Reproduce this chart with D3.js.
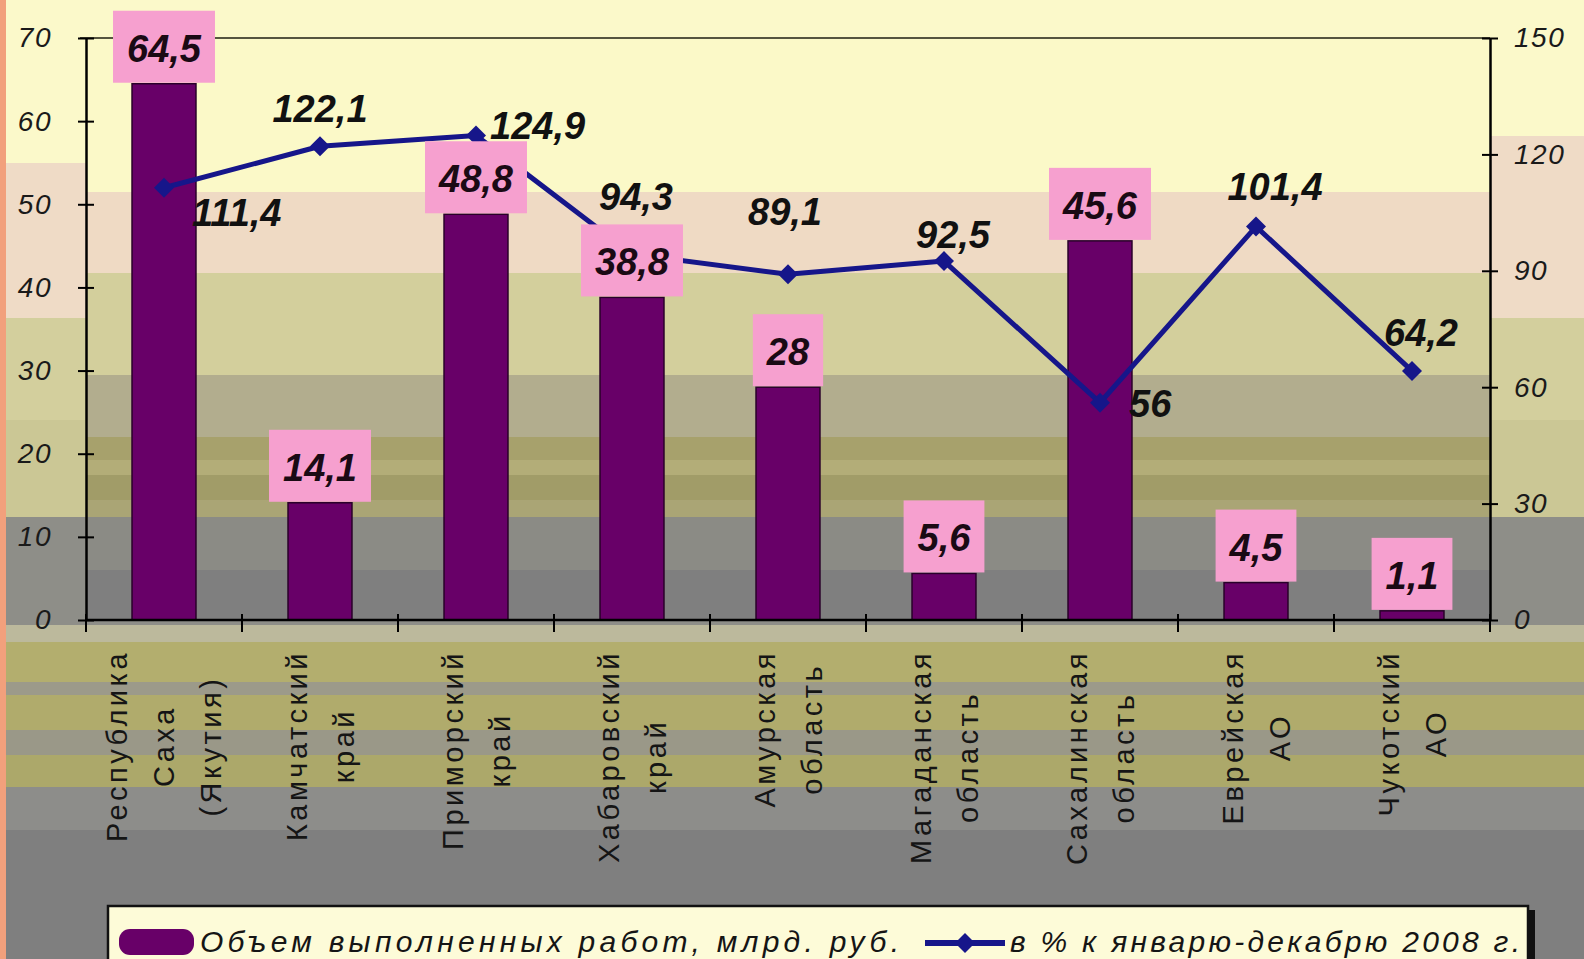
<!DOCTYPE html>
<html>
<head>
<meta charset="utf-8">
<script src="https://cdn.jsdelivr.net/npm/d3@7"></script>
<style>
body { margin: 0; overflow: hidden; background: #8a8a86; }
</style>
</head>
<body>
<div id="chart"></div>
<script>
// data
let categories = [
    ["Республика", "Саха", "(Якутия)"],
    ["Камчатский", "край"],
    ["Приморский", "край"],
    ["Хабаровский", "край"],
    ["Амурская", "область"],
    ["Магаданская", "область"],
    ["Сахалинская", "область"],
    ["Еврейская", "АО"],
    ["Чукотский", "АО"]
];
let volume = [64.5, 14.1, 48.8, 38.8, 28, 5.6, 45.6, 4.5, 1.1];
let percent = [111.4, 122.1, 124.9, 94.3, 89.1, 92.5, 56, 101.4, 64.2];
let leftTicks = [0, 10, 20, 30, 40, 50, 60, 70];
let rightTicks = [0, 30, 60, 90, 120, 150];
let seriesNames = ["Объем выполненных работ, млрд. руб.", "в % к январю-декабрю 2008 г."];

// layout / style
let width = 1584;
let height = 959;
let margin = ({top: 38, bottom: 339, left: 86, right: 94});
let font = "'Liberation Sans', Arial, sans-serif";
let barColor = "#680068";
let lineColor = "#16168a";
let boxColor = "#f6a0cf";

// background stripes [y0, y1, colour]
let outerBands = [
    [0, 163, "#fbf9ca"], [163, 318, "#efdbc6"], [318, 420, "#d3cf9d"], [420, 517, "#cbc795"],
    [517, 625, "#8e8e88"], [625, 642, "#bcb99c"], [642, 682, "#b3ae6e"], [682, 695, "#9c9a8a"],
    [695, 730, "#b0ab6c"], [730, 755, "#9a9888"], [755, 787, "#aca86a"], [787, 830, "#8d8d8a"],
    [830, 959, "#7f7f7f"]
];
let plotBands = [
    [38, 192, "#fbf9c8"], [192, 273, "#efdac4"], [273, 375, "#d3cf9c"], [375, 437, "#b2ad8e"],
    [437, 460, "#a7a16c"], [460, 475, "#b3ad78"], [475, 500, "#a19c68"], [500, 517, "#aaa575"],
    [517, 570, "#8b8b85"], [570, 620, "#7f7f7f"]
];
// line label placement [anchor, dx, dy]
let labelPos = [
    ["start", 28, 25], ["middle", 0, -37], ["start", 14, -9], ["middle", 4, -57], ["middle", -3, -62],
    ["middle", 9, -26], ["start", 29, 1], ["middle", 19, -40], ["middle", 9, -38]
];

let fmt = d => String(d).replace(".", ",");

let svg = d3.select("#chart")
    .append("svg")
    .attr("width", width)
    .attr("height", height)
    .attr("viewBox", [0, 0, width, height]);

let x = d3.scaleBand()
    .domain(d3.range(categories.length))
    .range([margin.left, width - margin.right]);
let yL = d3.scaleLinear().domain([0, 70]).range([height - margin.bottom, margin.top]);
let yR = d3.scaleLinear().domain([0, 150]).range([height - margin.bottom, margin.top]);
let cx = i => x(i) + x.bandwidth() / 2;
let barW = x.bandwidth() * 0.41;

// background
svg.append("g").selectAll("rect").data(outerBands).join("rect")
    .attr("x", 0).attr("width", width)
    .attr("y", d => d[0]).attr("height", d => d[1] - d[0])
    .attr("fill", d => d[2]);
svg.append("rect")
    .attr("x", width - margin.right).attr("width", margin.right)
    .attr("y", 136).attr("height", 27).attr("fill", "#efdbc6");
svg.append("g").selectAll("rect").data(plotBands).join("rect")
    .attr("x", margin.left).attr("width", width - margin.left - margin.right)
    .attr("y", d => d[0]).attr("height", d => d[1] - d[0])
    .attr("fill", d => d[2]);
svg.append("rect").attr("x", 0).attr("y", 0).attr("width", 6).attr("height", height).attr("fill", "#f2a07c");

// top border of plot
svg.append("line")
    .attr("x1", margin.left - 6).attr("x2", width - margin.right)
    .attr("y1", margin.top).attr("y2", margin.top)
    .attr("stroke", "#55553f").attr("stroke-width", 2);

// bars
svg.append("g")
    .selectAll("rect")
    .data(volume)
    .join("rect")
    .attr("x", (d, i) => cx(i) - barW / 2)
    .attr("width", barW)
    .attr("y", d => yL(d))
    .attr("height", d => yL(0) - yL(d))
    .attr("fill", barColor)
    .attr("stroke", "#2a002a")
    .attr("stroke-width", 1.5);

// line
let line = d3.line()
    .x((d, i) => cx(i))
    .y(d => yR(d));
svg.append("path")
    .datum(percent)
    .attr("fill", "none")
    .attr("stroke", lineColor)
    .attr("stroke-width", 5)
    .attr("stroke-linejoin", "round")
    .attr("d", line);
svg.append("g")
    .selectAll("path")
    .data(percent)
    .join("path")
    .attr("transform", (d, i) => `translate(${cx(i)},${yR(d)})`)
    .attr("d", "M0,-10L10,0L0,10L-10,0Z")
    .attr("fill", lineColor);

// bar value boxes
let boxes = svg.append("g")
    .selectAll("g")
    .data(volume)
    .join("g")
    .attr("transform", (d, i) => `translate(${cx(i)},${yL(d) - 1})`);
boxes.append("rect").attr("fill", boxColor);
boxes.append("text")
    .attr("text-anchor", "middle")
    .attr("y", -21)
    .attr("font-family", font)
    .attr("font-size", 38)
    .attr("font-weight", "bold")
    .attr("font-style", "italic")
    .attr("fill", "#1a0a14")
    .text(fmt);
boxes.each(function() {
    let g = d3.select(this);
    let w = g.select("text").node().getComputedTextLength() + 28;
    g.select("rect").attr("x", -w / 2).attr("width", w).attr("y", -72).attr("height", 72);
});

// line labels
svg.append("g")
    .selectAll("text")
    .data(percent)
    .join("text")
    .attr("x", (d, i) => cx(i) + labelPos[i][1])
    .attr("y", (d, i) => yR(d) + labelPos[i][2])
    .attr("text-anchor", (d, i) => labelPos[i][0])
    .attr("dominant-baseline", "central")
    .attr("font-family", font)
    .attr("font-size", 38)
    .attr("font-weight", "bold")
    .attr("font-style", "italic")
    .attr("fill", "#111")
    .text(fmt);

// axes
let styleAxis = g => {
    g.attr("font-family", font).attr("font-size", 28).attr("font-style", "italic");
    g.select(".domain").attr("stroke", "#000").attr("stroke-width", 2.5);
    g.selectAll(".tick line").attr("x1", -8).attr("x2", 8).attr("stroke", "#000").attr("stroke-width", 2);
    g.selectAll(".tick text").attr("fill", "#1a1a1a").attr("letter-spacing", 1.5);
};
svg.append("g")
    .attr("transform", `translate(${margin.left},0)`)
    .call(d3.axisLeft(yL).tickValues(leftTicks).tickSize(8).tickSizeOuter(0).tickPadding(26))
    .call(styleAxis);
svg.append("g")
    .attr("transform", `translate(${width - margin.right},0)`)
    .call(d3.axisRight(yR).tickValues(rightTicks).tickSize(8).tickSizeOuter(0).tickPadding(16))
    .call(styleAxis);

// x axis with ticks between categories
let xAxis = svg.append("g");
xAxis.append("line")
    .attr("x1", margin.left).attr("x2", width - margin.right)
    .attr("y1", yL(0)).attr("y2", yL(0))
    .attr("stroke", "#000").attr("stroke-width", 2.5);
xAxis.selectAll(".xt")
    .data(d3.range(categories.length + 1))
    .join("line")
    .attr("class", "xt")
    .attr("x1", i => margin.left + i * x.step())
    .attr("x2", i => margin.left + i * x.step())
    .attr("y1", yL(0) - 6).attr("y2", yL(0) + 12)
    .attr("stroke", "#000").attr("stroke-width", 2);

// category labels, rotated
let labelTop = 650;
let lineGap = 47;
categories.forEach((lines, i) => {
    let g = svg.append("g");
    let texts = g.selectAll("text")
        .data(lines)
        .join("text")
        .attr("font-family", font)
        .attr("font-size", 29)
        .attr("letter-spacing", 3.5)
        .attr("fill", "#151515")
        .attr("text-anchor", "middle")
        .attr("dominant-baseline", "central")
        .text(d => d);
    let longest = d3.max(texts.nodes(), n => n.getComputedTextLength());
    let mid = labelTop + longest / 2;
    texts.attr("transform", (d, j) =>
        `translate(${cx(i) + (j - (lines.length - 1) / 2) * lineGap},${mid}) rotate(-90)`);
});

// legend
let legend = svg.append("g");
legend.append("rect")
    .attr("x", 1526).attr("y", 910).attr("width", 9).attr("height", 60)
    .attr("fill", "#111");
legend.append("rect")
    .attr("x", 108).attr("y", 906).attr("width", 1420).attr("height", 70)
    .attr("fill", "#fdfbd8").attr("stroke", "#111").attr("stroke-width", 2.5);
legend.append("rect")
    .attr("x", 119).attr("y", 929).attr("width", 75).attr("height", 26).attr("rx", 11)
    .attr("fill", barColor);
legend.append("line")
    .attr("x1", 925).attr("x2", 1005).attr("y1", 943).attr("y2", 943)
    .attr("stroke", lineColor).attr("stroke-width", 6);
legend.append("path")
    .attr("transform", "translate(965,943)")
    .attr("d", "M0,-10L10,0L0,10L-10,0Z")
    .attr("fill", lineColor);
legend.selectAll(".lt")
    .data(seriesNames)
    .join("text")
    .attr("class", "lt")
    .attr("x", (d, i) => i === 0 ? 200 : 1010)
    .attr("y", 952)
    .attr("textLength", (d, i) => i === 0 ? 699 : 510)
    .attr("lengthAdjust", "spacing")
    .attr("font-family", font)
    .attr("font-size", 30)
    .attr("font-style", "italic")
    .attr("fill", "#151515")
    .text(d => d);
</script>
</body>
</html>
